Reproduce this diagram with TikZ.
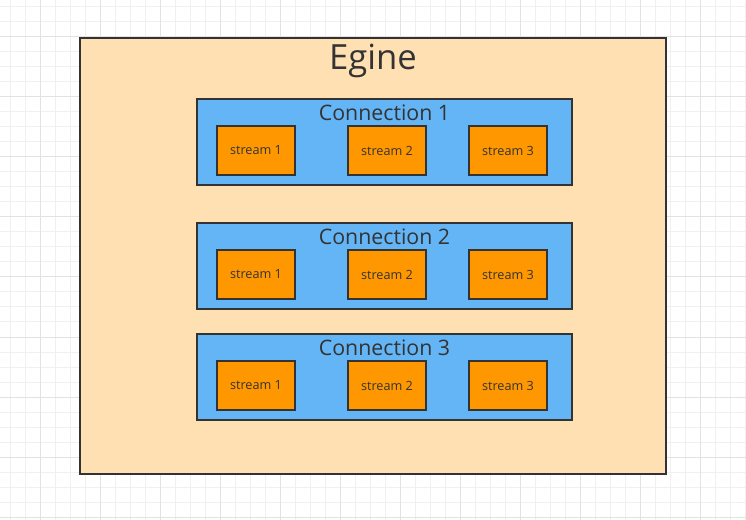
\documentclass[tikz,border=0pt]{standalone}
\usepackage{fontspec}
\setmainfont{Open Sans}
\definecolor{gridminor}{HTML}{F0F0F0}
\definecolor{gridmajor}{HTML}{E2E2E2}
\definecolor{peach}{HTML}{FFE0B2}
\definecolor{connblue}{HTML}{64B5F6}
\definecolor{streamor}{HTML}{FF9800}
\definecolor{ink}{HTML}{333333}
\begin{document}
\begin{tikzpicture}[x=0.75pt,y=-0.75pt,
  engine/.style={draw=ink,line width=1.5pt,fill=peach},
  connbox/.style={draw=ink,line width=1.5pt,fill=connblue},
  streambox/.style={draw=ink,line width=1.5pt,fill=streamor,minimum width=58.5pt,minimum height=36.75pt,inner sep=0pt,font=\fontsize{9.5}{11}\selectfont,text=ink},
  title/.style={text=ink,inner sep=0pt}]
\useasboundingbox (0,0) rectangle (746,520);
\fill[white] (0,0) rectangle (746,520);
\foreach \x in {10,25,...,745} \draw[gridminor,line width=0.75pt] (\x,0) -- (\x,520);
\foreach \y in {7,22,...,519} \draw[gridminor,line width=0.75pt] (0,\y) -- (746,\y);
\foreach \x in {40,100,...,745} \draw[gridmajor,line width=0.75pt] (\x,0) -- (\x,520);
\foreach \y in {37,97,...,519} \draw[gridmajor,line width=0.75pt] (0,\y) -- (746,\y);
\draw[engine] (80,38) rectangle (666,474);
\node[title,font=\fontsize{26}{30}\selectfont] (egine) at (373,61) {Egine};
\foreach \i/\t in {1/99,2/223,3/334}{
  \draw[connbox] (197,\t) rectangle (572,\t+86);
  \node[title,font=\fontsize{16}{19}\selectfont] (c\i) at (384.5,\t+13.5) {Connection \i};
  \node[streambox] (s\i a) at (256,\t+51.5) {\raisebox{-1pt}{stream 1}};
  \node[streambox] (s\i b) at (387,\t+51.5) {\raisebox{-1pt}{stream 2}};
  \node[streambox] (s\i c) at (508,\t+51.5) {\raisebox{-1pt}{stream 3}};
}
\end{tikzpicture}
\end{document}
